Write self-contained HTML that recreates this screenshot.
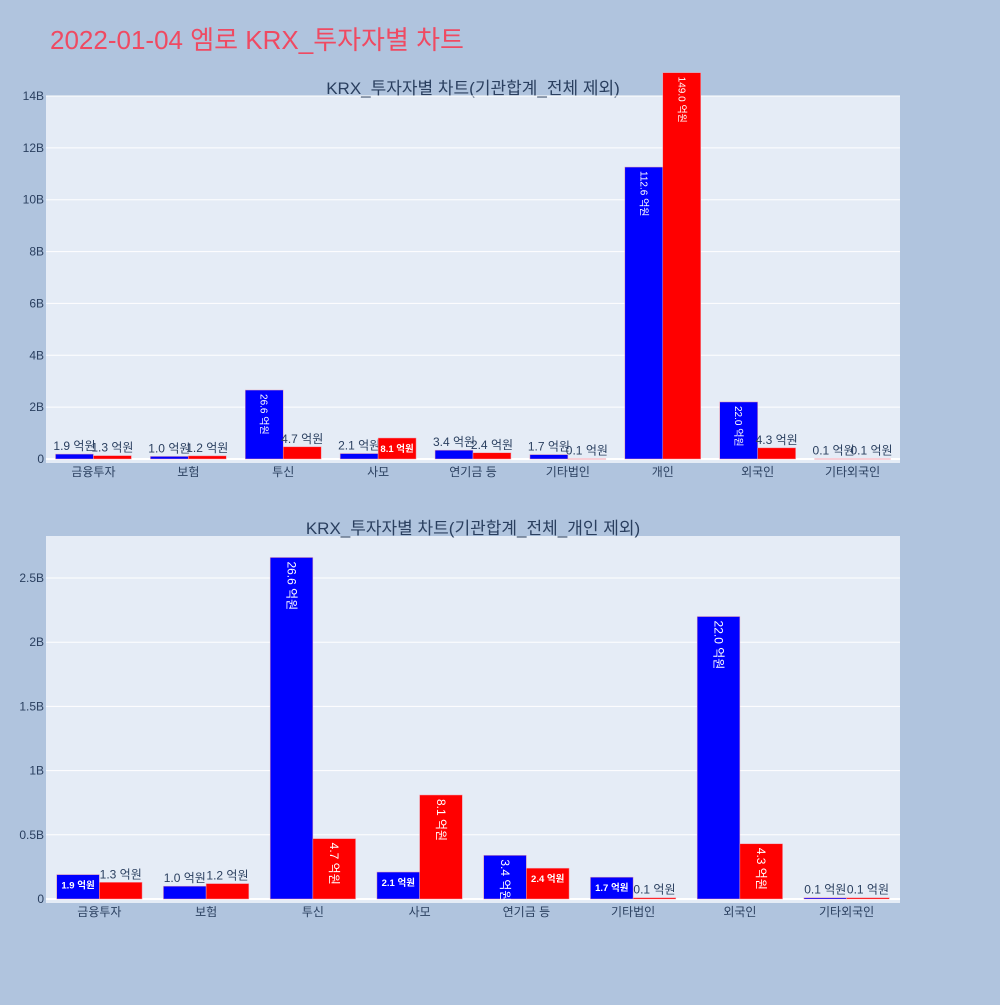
<!DOCTYPE html>
<html><head><meta charset="utf-8">
<style>
body{margin:0;background:#b0c4de;font-family:"Liberation Sans","Noto Sans CJK KR",sans-serif;}
svg text{font-family:"Liberation Sans","Noto Sans CJK KR",sans-serif;}
</style></head>
<body>
<svg id="root" width="1000" height="1000" xmlns="http://www.w3.org/2000/svg">
<rect width="1000" height="1000" fill="#b0c4de"/>
<text x="50" y="49" font-size="26" fill="#ef4a62">2022-01-04 엠로 KRX_투자자별 차트</text>
</svg>
<script>
const cats1 = ["금융투자","보험","투신","사모","연기금 등","기타법인","개인","외국인","기타외국인"];
const blue1 = [0.19,0.10,2.66,0.21,0.34,0.17,11.26,2.20,0.01];
const red1 = [0.13,0.12,0.47,0.81,0.24,0.01,14.90,0.43,0.01];
const labB1 = ["1.9 억원","1.0 억원","26.6 억원","2.1 억원","3.4 억원","1.7 억원","112.6 억원","22.0 억원","0.1 억원"];
const labR1 = ["1.3 억원","1.2 억원","4.7 억원","8.1 억원","2.4 억원","0.1 억원","149.0 억원","4.3 억원","0.1 억원"];
const ticks1 = [0,2,4,6,8,10,12,14];
const tickLab1 = ["0","2B","4B","6B","8B","10B","12B","14B"];
const cats2 = ["금융투자","보험","투신","사모","연기금 등","기타법인","외국인","기타외국인"];
const blue2 = [0.19,0.10,2.66,0.21,0.34,0.17,2.20,0.01];
const red2 = [0.13,0.12,0.47,0.81,0.24,0.01,0.43,0.01];
const labB2 = ["1.9 억원","1.0 억원","26.6 억원","2.1 억원","3.4 억원","1.7 억원","22.0 억원","0.1 억원"];
const labR2 = ["1.3 억원","1.2 억원","4.7 억원","8.1 억원","2.4 억원","0.1 억원","4.3 억원","0.1 억원"];
const ticks2 = [0,0.5,1,1.5,2,2.5];
const tickLab2 = ["0","0.5B","1B","1.5B","2B","2.5B"];

const NS="http://www.w3.org/2000/svg";
const root=document.getElementById('root');
function mk(tag,attrs,parent,txt){const e=document.createElementNS(NS,tag);for(const k in attrs)e.setAttribute(k,attrs[k]);if(txt!==undefined)e.textContent=txt;(parent||root).appendChild(e);return e;}

function plot(id,title,cats,blue,red,labB,labR,ticks,tickLab,box,ymax){
  const [x0,y0,w,h]=box;
  const g=mk('g',{},root);
  
  
  const bg=mk('rect',{x:x0,y:y0,width:w,height:h,fill:'#e5ecf6'},g);
  
  
  const t=mk('text',{x:x0+w/2,y:y0-2,'font-size':17,fill:'#2a3f5f','text-anchor':'middle'},g,title);
  
  
  const zeroY=y0+h-4;
  const ys=v=>zeroY-(v/ymax)*(zeroY-y0);
  ticks.forEach((tv,i)=>{
    const y=ys(tv);
    const gl=mk('line',{x1:x0,x2:x0+w,y1:y,y2:y,stroke:'#fff','stroke-width':tv===0?2:1},g);
    
    
    const tl=mk('text',{x:x0-2,y:y+4,'font-size':12,fill:'#2a3f5f','text-anchor':'end'},g,tickLab[i]);
    
    
  });
  const band=w/cats.length, bw=band*0.4;
  cats.forEach((c,i)=>{
    const cx=x0+band*(i+0.5);
    const xl=mk('text',{x:cx,y:y0+h+13,'font-size':12,fill:'#2a3f5f','text-anchor':'middle'},g,c);
    
    
    [[blue[i],labB[i],'#0000ff',cx-bw,'buy'],[red[i],labR[i],'#ff0000',cx,'sell']].forEach(([v,lab,col,bx,nm])=>{
      const yt=ys(v), bh=zeroY-yt;
      const r=mk('rect',{x:bx,y:yt,width:bw,height:Math.max(bh,0.5),fill:col,stroke:'#f0a0b0','stroke-width':0.5},g);
      
      
      let tx;
      if(bh>=40){
        const fs=bw<40?10:12;
        tx=mk('text',{x:0,y:0,'font-size':fs,fill:'#fff',transform:`translate(${bx+bw/2-fs*0.35},${yt+4}) rotate(90)`},g,lab);
      }else if(bh>=18){
        tx=mk('text',{x:bx+bw/2,y:yt+Math.min(bh/2+4,14),'font-size':9.5,'font-weight':'bold',fill:'#fff','text-anchor':'middle'},g,lab);
      }else{
        tx=mk('text',{x:bx+bw/2,y:yt-4,'font-size':w>860?10:12,fill:'#2a3f5f','text-anchor':'middle'},g,lab);
      }
      
      
    });
  });
}
plot('top-chart','KRX_투자자별 차트(기관합계_전체 제외)',cats1,blue1,red1,labB1,labR1,ticks1,tickLab1,[46,96,854,367],(460-138)/23*1+0);
plot('bottom-chart','KRX_투자자별 차트(기관합계_전체_개인 제외)',cats2,blue2,red2,labB2,labR2,ticks2,tickLab2,[46,536,854,367],(899-536)/128.4);
</script>
</body></html>
